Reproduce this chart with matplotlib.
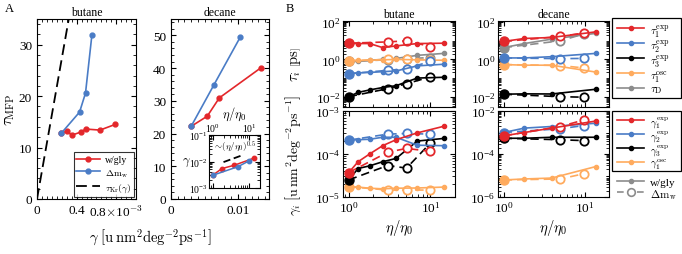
import numpy as np
import matplotlib
matplotlib.use('Agg')
import matplotlib.pyplot as plt
from matplotlib.lines import Line2D
from matplotlib.patches import Rectangle
from matplotlib.ticker import LogLocator, NullFormatter, MultipleLocator

plt.rcParams['font.family'] = ['Liberation Serif', 'DejaVu Serif']
plt.rcParams['mathtext.fontset'] = 'cm'
plt.rcParams['xtick.direction'] = 'in'
plt.rcParams['ytick.direction'] = 'in'
plt.rcParams['xtick.top'] = True
plt.rcParams['ytick.right'] = True
plt.rcParams['xtick.labelsize'] = 9.5
plt.rcParams['ytick.labelsize'] = 9.5

# colours
RED = '#e3272b'
BLUE = '#4a7cc6'
BLACK = '#000000'
ORANGE = '#ffab5e'
GRAY = '#8c8c8c'

# ---- panel A: tau_MFP vs gamma ----
gam_gly_but = [0.246e-3, 0.308e-3, 0.349e-3, 0.441e-3, 0.492e-3, 0.636e-3, 0.79e-3]
tau_gly_but = [12.8, 13.2, 12.4, 13.0, 13.6, 13.4, 14.5]
gam_dm_but = [0.246e-3, 0.43e-3, 0.49e-3, 0.554e-3]
tau_dm_but = [12.8, 16.9, 20.6, 31.8]
gam_kr = [0.0, 0.33e-3]
tau_kr = [0.0, 36.0]

gam_gly_dec = [0.003, 0.0054, 0.0072, 0.0134]
tau_gly_dec = [22.2, 25.3, 30.9, 40.1]
gam_dm_dec = [0.003, 0.0064, 0.0103]
tau_dm_dec = [22.2, 34.9, 49.4]

# viscosity ratios
eta_gly_but = [1, 1.3, 1.8, 2.6, 3.8, 6.9, 14.5]
eta_dm_but = [1, 3.0, 5.1, 10]
eta_gly_dec = [1, 1.8, 3.9, 13.7]
eta_dm_dec = [1, 5.0, 9.7]

# inset guide ~ (eta/eta0)^0.5
eta_guide = [2.0, 6.0]
gam_guide = [0.0095, 0.0165]

# ---- panel B: relaxation times [ps] ----
tau1_gly_but = [7.4, 7.1, 7.1, 4.3, 5.3, 7.1, 7.4]
tau1_dm_but = [7.4, 8.7, 9.9, 4.9]
tau2_gly_but = [0.17, 0.19, 0.2, 0.22, 0.24, 0.45, 0.55]
tau2_dm_but = [0.17, 0.26, 0.31, 0.8]
tau3_gly_but = [0.01, 0.017, 0.023, 0.031, 0.039, 0.1, 0.11]
tau3_dm_but = [0.01, 0.027, 0.05, 0.115]
tau1osc_gly_but = [0.85, 0.88, 0.9, 0.95, 1.0, 0.95, 0.9]
tau1osc_dm_but = [0.85, 1.0, 1.05, 0.95]
tauD_gly_but = [0.78, 0.78, 0.89, 1.0, 1.13, 1.65, 2.1]
tauD_dm_but = [0.78, 0.95, 1.1, 1.25]

tau1_gly_dec = [9.2, 13.3, 15, 30]
tau1_dm_dec = [9.2, 17, 26]
tau2_gly_dec = [1.2, 1.2, 1.4, 2.1]
tau2_dm_dec = [1.2, 1.1, 1.13]
tau3_gly_dec = [0.0136, 0.0142, 0.014, 0.025]
tau3_dm_dec = [0.0136, 0.01, 0.0094]
tau1osc_gly_dec = [0.53, 0.49, 0.49, 0.21]
tau1osc_dm_dec = [0.53, 0.47, 0.35]
tauD_gly_dec = [4.3, 7.1, 12.2, 25]
tauD_dm_dec = [4.3, 9.9, 23]

# ---- panel B: friction coefficients ----
g1_gly_but = [3.7e-5, 6.6e-5, 1.0e-4, 1.56e-4, 2.15e-4, 3.1e-4, 4.4e-4]
g1_dm_but = [3.7e-5, 1.1e-4, 1.35e-4, 1.15e-4]
g2_gly_but = [2.1e-4, 2.15e-4, 2.2e-4, 2.45e-4, 2.45e-4, 1.6e-4, 1.56e-4]
g2_dm_but = [2.1e-4, 2.9e-4, 3.0e-4, 2.9e-4]
g3_gly_but = [2.5e-5, 4.6e-5, 5.3e-5, 6.6e-5, 7.9e-5, 2.0e-4, 2.3e-4]
g3_dm_but = [2.5e-5, 5.4e-5, 4.7e-5, 1.8e-4]
g1osc_gly_but = [1.74e-5, 1.7e-5, 1.6e-5, 1.55e-5, 1.6e-5, 1.62e-5, 1.7e-5]
g1osc_dm_but = [1.74e-5, 1.45e-5, 1.45e-5, 1.45e-5]

g1_gly_dec = [7e-4, 1.0e-3, 1.6e-3, 3.4e-3]
g1_dm_dec = [7e-4, 1.9e-3, 3.8e-3]
g2_gly_dec = [1.0e-3, 1.6e-3, 1.9e-3, 2.7e-3]
g2_dm_dec = [1.0e-3, 1.5e-3, 2.1e-3]
g3_gly_dec = [5.4e-4, 5.4e-4, 6e-4, 6e-4]
g3_dm_dec = [5.4e-4, 4.6e-4, 4.2e-4]
g1osc_gly_dec = [6.2e-6, 6.9e-6, 7.6e-6, 2.6e-5]
g1osc_dm_dec = [6.2e-6, 6.9e-6, 1.2e-5]

# legend entries for panel B
leg_tau_labels = [r'$\tau_1^{\rm exp}$', r'$\tau_2^{\rm exp}$', r'$\tau_3^{\rm exp}$',
                  r'$\tau_1^{\rm osc}$', r'$\tau_{\rm D}$']
leg_tau_colors = [RED, BLUE, BLACK, ORANGE, GRAY]
leg_gam_labels = [r'$\gamma_1^{\rm exp}$', r'$\gamma_2^{\rm exp}$', r'$\gamma_3^{\rm exp}$',
                  r'$\gamma_1^{\rm osc}$']
leg_gam_colors = [RED, BLUE, BLACK, ORANGE]

W, H = 682, 255
fig = plt.figure(figsize=(6.82, 2.55), dpi=100)


def box(x0, y0, x1, y1):
    # pixel box -> figure fraction
    return [x0 / W, 1 - y1 / H, (x1 - x0) / W, (y1 - y0) / H]


# ================= A: butane =================
axa1 = fig.add_axes(box(37, 20, 136, 200))
axa1.plot(gam_gly_but, tau_gly_but, '-o', color=RED, lw=1.2, ms=3.5, label='w/gly')
axa1.plot(gam_dm_but, tau_dm_but, '-o', color=BLUE, lw=1.2, ms=3.5, label=r'$\Delta\mathrm{m_w}$')
axa1.plot(gam_kr, tau_kr, '--', color='black', lw=1.3, dashes=(6, 3), label=r'$\tau_{\rm Kr}(\gamma)$')
axa1.set_xlim(0, 1.0e-3)
axa1.set_ylim(0, 35)
axa1.set_xticks([0, 0.4e-3, 0.8e-3])
axa1.set_xticklabels(['0', '0.4', r'0.8$\times$10$^{-3}$'])
axa1.xaxis.set_minor_locator(MultipleLocator(0.05e-3))
axa1.set_yticks([0, 10, 20, 30])
axa1.yaxis.set_minor_locator(MultipleLocator(2))
axa1.set_ylabel(r'$\tau_{\rm MFP}$', fontsize=11, labelpad=1)
axa1.set_title('butane', fontsize=8.5, pad=3)
axa1.legend(loc='lower right', fontsize=7, frameon=True, fancybox=False,
            edgecolor='black', handlelength=2.4, borderpad=0.3, labelspacing=0.3,
            handletextpad=0.5, borderaxespad=0.2).get_frame().set_linewidth(0.8)

# ================= A: decane =================
axa2 = fig.add_axes(box(171, 20, 269, 200))
axa2.plot(gam_gly_dec, tau_gly_dec, '-o', color=RED, lw=1.2, ms=3.5)
axa2.plot(gam_dm_dec, tau_dm_dec, '-o', color=BLUE, lw=1.2, ms=3.5)
axa2.set_xlim(0, 0.0146)
axa2.set_ylim(0, 55)
axa2.set_xticks([0, 0.01])
axa2.set_xticklabels(['0', '0.01'])
axa2.xaxis.set_minor_locator(MultipleLocator(0.001))
axa2.set_yticks([0, 10, 20, 30, 40, 50])
axa2.yaxis.set_minor_locator(MultipleLocator(2))
axa2.set_title('decane', fontsize=8.5, pad=3)

fig.text(150 / W, 1 - 238 / H, r'$\gamma\ \left[\mathrm{u\,nm^2deg^{-2}ps^{-1}}\right]$',
         ha='center', va='center', fontsize=10.5)

# inset
axin = fig.add_axes(box(209, 136, 260, 189))
axin.loglog(eta_gly_dec, gam_gly_dec, '-o', color=RED, lw=1.1, ms=3.2)
axin.loglog(eta_dm_dec, gam_dm_dec, '-o', color=BLUE, lw=1.1, ms=3.2)
axin.loglog(eta_guide, gam_guide, '--', color='black', lw=1.3, dashes=(4, 2))
axin.set_xlim(0.8, 20)
axin.set_ylim(1e-3, 1e-1)
axin.tick_params(labelsize=7, which='both', labeltop=True, labelbottom=False, pad=1)
axin.set_xticks([1, 10])
axin.set_yticks([1e-3, 1e-2, 1e-1])
axin.yaxis.set_minor_locator(LogLocator(base=10, subs=np.arange(1, 10), numticks=50))
axin.yaxis.set_minor_formatter(NullFormatter())
axin.xaxis.set_label_position('top')
axin.set_xlabel(r'$\eta/\eta_0$', fontsize=9, labelpad=3)
axin.set_ylabel(r'$\gamma$', fontsize=9, rotation=0, labelpad=2, va='center')
axin.text(0.5, 0.8, r'$\sim\!(\eta/\eta_0)^{0.5}$', transform=axin.transAxes,
          ha='center', va='center', fontsize=6.5)

fig.text(5 / W, 1 - 9 / H, 'A', fontsize=9, va='center')
fig.text(286 / W, 1 - 9 / H, 'B', fontsize=9, va='center')

# ================= B =================
axbt1 = fig.add_axes(box(343, 22, 455, 108))
axbt2 = fig.add_axes(box(498, 22, 609, 108))
axbb1 = fig.add_axes(box(343, 112, 455, 198))
axbb2 = fig.add_axes(box(498, 112, 609, 198))


def draw(ax, eg, vg, ed, vd, c):
    ax.plot(ed, vd, '-', color=c, lw=1.2, dashes=(5, 3))
    ax.plot(ed[1:], vd[1:], 'o', mfc='white', mec=c, ms=6, mew=1.3, ls='none')
    ax.plot(eg, vg, '-o', color=c, lw=1.2, ms=3)
    ax.plot(eg[:1], vg[:1], 'o', color=c, ms=6.5)


draw(axbt1, eta_gly_but, tauD_gly_but, eta_dm_but, tauD_dm_but, GRAY)
draw(axbt1, eta_gly_but, tau1osc_gly_but, eta_dm_but, tau1osc_dm_but, ORANGE)
draw(axbt1, eta_gly_but, tau3_gly_but, eta_dm_but, tau3_dm_but, BLACK)
draw(axbt1, eta_gly_but, tau2_gly_but, eta_dm_but, tau2_dm_but, BLUE)
draw(axbt1, eta_gly_but, tau1_gly_but, eta_dm_but, tau1_dm_but, RED)

draw(axbt2, eta_gly_dec, tauD_gly_dec, eta_dm_dec, tauD_dm_dec, GRAY)
draw(axbt2, eta_gly_dec, tau1osc_gly_dec, eta_dm_dec, tau1osc_dm_dec, ORANGE)
draw(axbt2, eta_gly_dec, tau3_gly_dec, eta_dm_dec, tau3_dm_dec, BLACK)
draw(axbt2, eta_gly_dec, tau2_gly_dec, eta_dm_dec, tau2_dm_dec, BLUE)
draw(axbt2, eta_gly_dec, tau1_gly_dec, eta_dm_dec, tau1_dm_dec, RED)

draw(axbb1, eta_gly_but, g1osc_gly_but, eta_dm_but, g1osc_dm_but, ORANGE)
draw(axbb1, eta_gly_but, g3_gly_but, eta_dm_but, g3_dm_but, BLACK)
draw(axbb1, eta_gly_but, g2_gly_but, eta_dm_but, g2_dm_but, BLUE)
draw(axbb1, eta_gly_but, g1_gly_but, eta_dm_but, g1_dm_but, RED)

draw(axbb2, eta_gly_dec, g1osc_gly_dec, eta_dm_dec, g1osc_dm_dec, ORANGE)
draw(axbb2, eta_gly_dec, g3_gly_dec, eta_dm_dec, g3_dm_dec, BLACK)
draw(axbb2, eta_gly_dec, g2_gly_dec, eta_dm_dec, g2_dm_dec, BLUE)
draw(axbb2, eta_gly_dec, g1_gly_dec, eta_dm_dec, g1_dm_dec, RED)

for ax in [axbt1, axbt2, axbb1, axbb2]:
    ax.set_xscale('log')
    ax.set_yscale('log')
    ax.set_xlim(0.85, 20)
    ax.set_xticks([1, 10])
    ax.xaxis.set_minor_locator(LogLocator(base=10, subs=np.arange(2, 10), numticks=50))
    ax.xaxis.set_minor_formatter(NullFormatter())
    ax.yaxis.set_minor_locator(LogLocator(base=10, subs=np.arange(1, 10), numticks=100))
    ax.yaxis.set_minor_formatter(NullFormatter())
    ax.tick_params(which='both', pad=2)

for ax in [axbt1, axbt2]:
    ax.set_ylim(2.8e-3, 1.15e2)
    ax.set_yticks([1e-2, 1, 1e2])
    ax.tick_params(labelbottom=False)

axbb1.set_ylim(1e-5, 1e-3)
axbb1.set_yticks([1e-5, 1e-4, 1e-3])
axbb2.set_ylim(1e-6, 1e-2)
axbb2.set_yticks([1e-6, 1e-4, 1e-2])

axbt1.set_title('butane', fontsize=8.5, pad=3)
axbt2.set_title('decane', fontsize=8.5, pad=3)
axbb1.set_xlabel(r'$\eta/\eta_0$', fontsize=10.5, labelpad=2)
axbb2.set_xlabel(r'$\eta/\eta_0$', fontsize=10.5, labelpad=2)
axbt1.set_ylabel(r'$\tau_i\ \left[\mathrm{ps}\right]$', fontsize=10.5)
axbt1.yaxis.set_label_coords(-0.36, 0.5)
axbb1.set_ylabel(r'$\gamma_i\ \left[\mathrm{u\,nm^2deg^{-2}ps^{-1}}\right]$', fontsize=10)
axbb1.yaxis.set_label_coords(-0.36, 0.5)


# hand-placed legends (pixel coordinates) to the right of panel B
def px(x, y):
    return x / W, 1 - y / H


def legend_box(x0, y0, x1, y1):
    fig.add_artist(Rectangle(px(x0, y1), (x1 - x0) / W, (y1 - y0) / H,
                             fill=True, facecolor='white', edgecolor='black', lw=0.9,
                             transform=fig.transFigure))


def legend_row(y, color, label, dashed=False, open_marker=False, fs=9.5):
    xa, ya = px(617, y)
    xb, _ = px(644, y)
    xm, _ = px(630.5, y)
    fig.add_artist(Line2D([xa, xb], [ya, ya], color=color, lw=1.2,
                          dashes=(4, 2) if dashed else (None, None),
                          transform=fig.transFigure))
    if open_marker:
        fig.add_artist(Line2D([xm], [ya], marker='o', ms=5.5, mfc='white', mec=color,
                              mew=1.2, ls='none', transform=fig.transFigure))
    else:
        fig.add_artist(Line2D([xm], [ya], marker='o', ms=3, color=color, ls='none',
                              transform=fig.transFigure))
    fig.text(px(650, y)[0], ya, label, fontsize=fs, va='center_baseline', ha='left')


legend_box(612, 19, 681, 99)
for i, (lab, c) in enumerate(zip(leg_tau_labels, leg_tau_colors)):
    legend_row(29 + 15 * i, c, lab, fs=8.2)

legend_box(612, 112, 681, 172)
for i, (lab, c) in enumerate(zip(leg_gam_labels, leg_gam_colors)):
    legend_row(121 + 14 * i, c, lab, fs=7.6)

legend_row(182, GRAY, 'w/gly', fs=8)
legend_row(193, GRAY, r'$\Delta\mathrm{m_w}$', dashed=True, open_marker=True, fs=8)

fig.savefig('out.png', dpi=100)
